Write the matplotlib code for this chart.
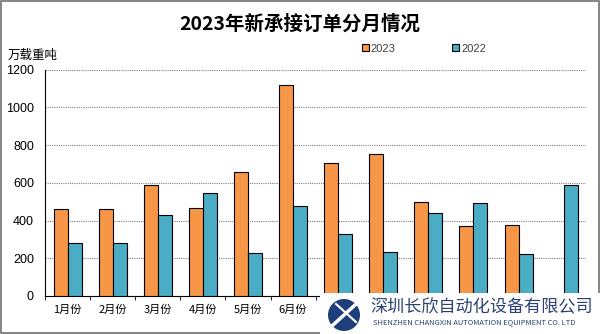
import numpy as np
import matplotlib.pyplot as plt
from matplotlib.patches import Rectangle, Circle

plt.rcParams['font.family'] = ['Noto Sans CJK SC', 'DejaVu Sans']

months = ['1月份', '2月份', '3月份', '4月份', '5月份', '6月份',
          '7月份', '8月份', '9月份', '10月份', '11月份', '12月份']
orders_2023 = [460, 462, 591, 466, 658, 1121, 706, 753, 501, 372, 377, 0]
orders_2022 = [280, 282, 427, 547, 229, 476, 327, 231, 439, 492, 221, 591]

fig = plt.figure(figsize=(6, 3.34), dpi=100)
ax = fig.add_axes([0.075, 0.114, 0.902, 0.677])

x = np.arange(len(months))
w = 0.31
ax.bar(x - w / 2, orders_2023, w, color='#F79646', edgecolor='black', linewidth=0.8, label='2023', zorder=3)
ax.bar(x + w / 2, orders_2022, w, color='#4BACC6', edgecolor='black', linewidth=0.8, label='2022', zorder=3)

ax.set_xlim(-0.5, len(months) - 0.5)
ax.set_ylim(0, 1200)
ax.set_yticks(range(0, 1201, 200))
ax.yaxis.grid(True, linestyle=(0, (1, 1)), color='#808080', linewidth=0.8)
ax.set_axisbelow(True)
for s in ['top', 'right']:
    ax.spines[s].set_visible(False)
ax.tick_params(axis='y', length=0, pad=8)
for lab in ax.get_yticklabels():
    lab.set_fontfamily('Liberation Sans')
    lab.set_fontsize(9)
ax.set_xticks(x)
ax.set_xticklabels(months, fontsize=8)
ax.tick_params(axis='x', length=0, pad=6)
ax.set_xticks(np.arange(-0.5, len(months)), minor=True)
ax.tick_params(axis='x', which='minor', length=3, direction='out')
# labels from July on sit under the company watermark in the original
for lab in ax.get_xticklabels()[6:]:
    lab.set_visible(False)

fig.text(0.5, 0.928, '2023年新承接订单分月情况', ha='center', va='center',
         fontsize=14, fontweight='bold')
fig.text(0.012, 0.835, '万载重吨', ha='left', va='center', fontsize=9)

leg = ax.legend(loc='center left', bbox_to_anchor=(0.567, 1.093), ncol=2, frameon=False,
                prop={'family': 'Liberation Sans', 'size': 8},
                handlelength=0.6, handleheight=0.6, columnspacing=5.1,
                handletextpad=0.2)
for t in leg.get_texts():
    t.set_color('#404040')

# watermark in the lower right corner
px = fig.dpi_scale_trans
fig.patches.append(Rectangle((3.2, 0), 2.8, 0.41, transform=px,
                             facecolor='white', edgecolor='none', zorder=5))
fig.patches.append(Circle((3.44, 0.19), 0.16, transform=px,
                          facecolor='#1F3F7A', edgecolor='none', zorder=6))
fig.add_artist(plt.Line2D([3.33, 3.55], [0.09, 0.29], transform=px, color='white',
                          linewidth=2.5, zorder=7))
fig.add_artist(plt.Line2D([3.36, 3.56], [0.30, 0.12], transform=px, color='white',
                          linewidth=1.5, zorder=7))
fig.text(3.70, 0.27, '深圳长欣自动化设备有限公司', transform=px, ha='left', va='center',
         fontsize=12.3, color='#2A4270', zorder=7)
fig.text(3.73, 0.12, 'SHENZHEN CHANGXIN AUTOMATION EQUIPMENT CO. LTD', transform=px,
         ha='left', va='center', fontsize=5.4, color='#2A4270', zorder=7)

fig.patches.append(Rectangle((0.002, 0.003), 0.996, 0.994, transform=fig.transFigure,
                             facecolor='none', edgecolor='#707070', linewidth=1.2, zorder=4))

fig.savefig('out.png', dpi=100)
